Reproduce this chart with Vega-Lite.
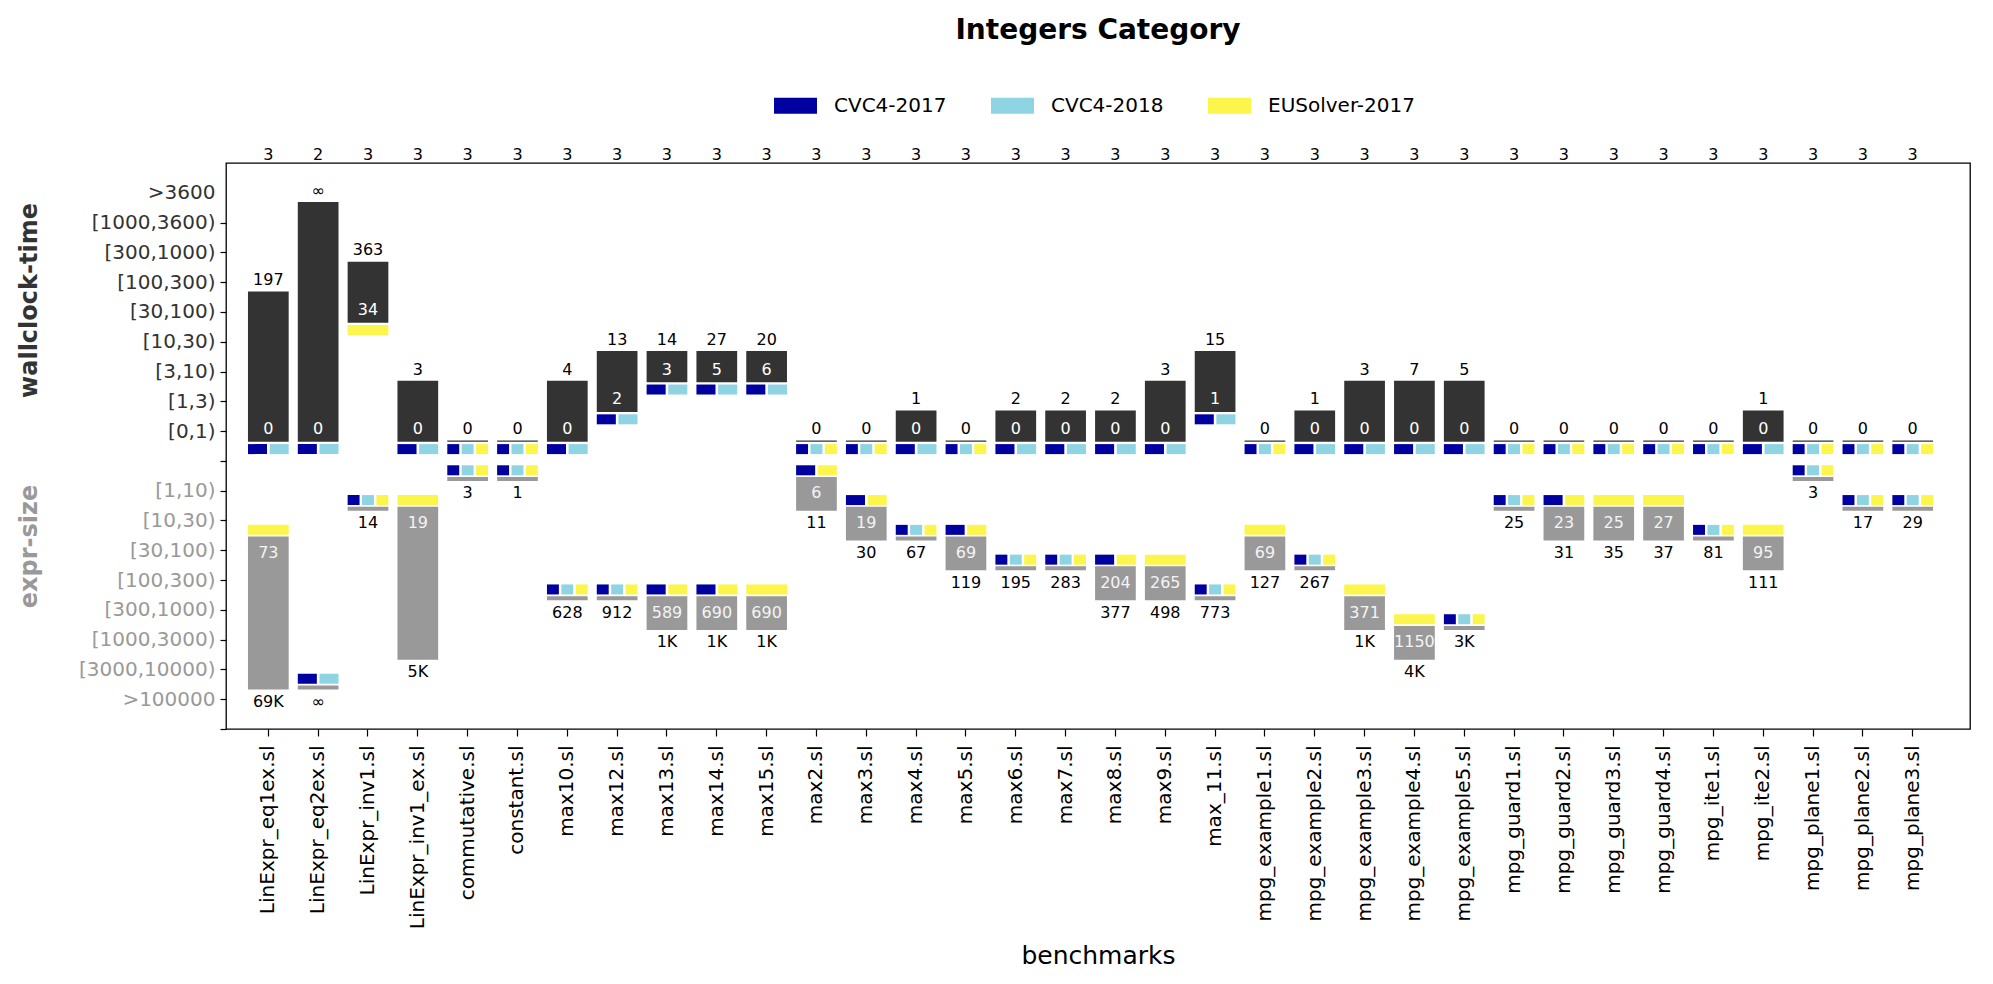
{
  "$schema": "https://vega.github.io/schema/vega-lite/v6.json",
  "width": 1744,
  "height": 566,
  "autosize": {"type": "none"},
  "padding": {"left": 226, "top": 163, "right": 23, "bottom": 255},
  "config": {"font": "DejaVu Sans", "view": {"stroke": "black", "strokeWidth": 1.3}},
  "title": {"text": "Integers Category", "fontSize": 28, "fontWeight": "bold", "color": "black", "anchor": "middle", "frame": "group", "offset": 39, "font": "DejaVu Sans"},
  "datasets": {
    "bench": [
      {"b": "LinExpr_eq1ex.sl", "n": 3, "tmin": "0", "tmax": "197", "tminL": 1, "tmaxL": 6, "smin": "73", "smax": "69K", "sminL": -3, "smaxL": -8},
      {"b": "LinExpr_eq2ex.sl", "n": 2, "tmin": "0", "tmax": "∞", "tminL": 1, "tmaxL": 9, "smin": "∞", "smax": "∞", "sminL": -8, "smaxL": -8},
      {"b": "LinExpr_inv1.sl", "n": 3, "tmin": "34", "tmax": "363", "tminL": 5, "tmaxL": 7, "smin": "14", "smax": "14", "sminL": -2, "smaxL": -2},
      {"b": "LinExpr_inv1_ex.sl", "n": 3, "tmin": "0", "tmax": "3", "tminL": 1, "tmaxL": 3, "smin": "19", "smax": "5K", "sminL": -2, "smaxL": -7},
      {"b": "commutative.sl", "n": 3, "tmin": "0", "tmax": "0", "tminL": 1, "tmaxL": 1, "smin": "3", "smax": "3", "sminL": -1, "smaxL": -1},
      {"b": "constant.sl", "n": 3, "tmin": "0", "tmax": "0", "tminL": 1, "tmaxL": 1, "smin": "1", "smax": "1", "sminL": -1, "smaxL": -1},
      {"b": "max10.sl", "n": 3, "tmin": "0", "tmax": "4", "tminL": 1, "tmaxL": 3, "smin": "628", "smax": "628", "sminL": -5, "smaxL": -5},
      {"b": "max12.sl", "n": 3, "tmin": "2", "tmax": "13", "tminL": 2, "tmaxL": 4, "smin": "912", "smax": "912", "sminL": -5, "smaxL": -5},
      {"b": "max13.sl", "n": 3, "tmin": "3", "tmax": "14", "tminL": 3, "tmaxL": 4, "smin": "589", "smax": "1K", "sminL": -5, "smaxL": -6},
      {"b": "max14.sl", "n": 3, "tmin": "5", "tmax": "27", "tminL": 3, "tmaxL": 4, "smin": "690", "smax": "1K", "sminL": -5, "smaxL": -6},
      {"b": "max15.sl", "n": 3, "tmin": "6", "tmax": "20", "tminL": 3, "tmaxL": 4, "smin": "690", "smax": "1K", "sminL": -5, "smaxL": -6},
      {"b": "max2.sl", "n": 3, "tmin": "0", "tmax": "0", "tminL": 1, "tmaxL": 1, "smin": "6", "smax": "11", "sminL": -1, "smaxL": -2},
      {"b": "max3.sl", "n": 3, "tmin": "0", "tmax": "0", "tminL": 1, "tmaxL": 1, "smin": "19", "smax": "30", "sminL": -2, "smaxL": -3},
      {"b": "max4.sl", "n": 3, "tmin": "0", "tmax": "1", "tminL": 1, "tmaxL": 2, "smin": "67", "smax": "67", "sminL": -3, "smaxL": -3},
      {"b": "max5.sl", "n": 3, "tmin": "0", "tmax": "0", "tminL": 1, "tmaxL": 1, "smin": "69", "smax": "119", "sminL": -3, "smaxL": -4},
      {"b": "max6.sl", "n": 3, "tmin": "0", "tmax": "2", "tminL": 1, "tmaxL": 2, "smin": "195", "smax": "195", "sminL": -4, "smaxL": -4},
      {"b": "max7.sl", "n": 3, "tmin": "0", "tmax": "2", "tminL": 1, "tmaxL": 2, "smin": "283", "smax": "283", "sminL": -4, "smaxL": -4},
      {"b": "max8.sl", "n": 3, "tmin": "0", "tmax": "2", "tminL": 1, "tmaxL": 2, "smin": "204", "smax": "377", "sminL": -4, "smaxL": -5},
      {"b": "max9.sl", "n": 3, "tmin": "0", "tmax": "3", "tminL": 1, "tmaxL": 3, "smin": "265", "smax": "498", "sminL": -4, "smaxL": -5},
      {"b": "max_11.sl", "n": 3, "tmin": "1", "tmax": "15", "tminL": 2, "tmaxL": 4, "smin": "773", "smax": "773", "sminL": -5, "smaxL": -5},
      {"b": "mpg_example1.sl", "n": 3, "tmin": "0", "tmax": "0", "tminL": 1, "tmaxL": 1, "smin": "69", "smax": "127", "sminL": -3, "smaxL": -4},
      {"b": "mpg_example2.sl", "n": 3, "tmin": "0", "tmax": "1", "tminL": 1, "tmaxL": 2, "smin": "267", "smax": "267", "sminL": -4, "smaxL": -4},
      {"b": "mpg_example3.sl", "n": 3, "tmin": "0", "tmax": "3", "tminL": 1, "tmaxL": 3, "smin": "371", "smax": "1K", "sminL": -5, "smaxL": -6},
      {"b": "mpg_example4.sl", "n": 3, "tmin": "0", "tmax": "7", "tminL": 1, "tmaxL": 3, "smin": "1150", "smax": "4K", "sminL": -6, "smaxL": -7},
      {"b": "mpg_example5.sl", "n": 3, "tmin": "0", "tmax": "5", "tminL": 1, "tmaxL": 3, "smin": "3K", "smax": "3K", "sminL": -6, "smaxL": -6},
      {"b": "mpg_guard1.sl", "n": 3, "tmin": "0", "tmax": "0", "tminL": 1, "tmaxL": 1, "smin": "25", "smax": "25", "sminL": -2, "smaxL": -2},
      {"b": "mpg_guard2.sl", "n": 3, "tmin": "0", "tmax": "0", "tminL": 1, "tmaxL": 1, "smin": "23", "smax": "31", "sminL": -2, "smaxL": -3},
      {"b": "mpg_guard3.sl", "n": 3, "tmin": "0", "tmax": "0", "tminL": 1, "tmaxL": 1, "smin": "25", "smax": "35", "sminL": -2, "smaxL": -3},
      {"b": "mpg_guard4.sl", "n": 3, "tmin": "0", "tmax": "0", "tminL": 1, "tmaxL": 1, "smin": "27", "smax": "37", "sminL": -2, "smaxL": -3},
      {"b": "mpg_ite1.sl", "n": 3, "tmin": "0", "tmax": "0", "tminL": 1, "tmaxL": 1, "smin": "81", "smax": "81", "sminL": -3, "smaxL": -3},
      {"b": "mpg_ite2.sl", "n": 3, "tmin": "0", "tmax": "1", "tminL": 1, "tmaxL": 2, "smin": "95", "smax": "111", "sminL": -3, "smaxL": -4},
      {"b": "mpg_plane1.sl", "n": 3, "tmin": "0", "tmax": "0", "tminL": 1, "tmaxL": 1, "smin": "3", "smax": "3", "sminL": -1, "smaxL": -1},
      {"b": "mpg_plane2.sl", "n": 3, "tmin": "0", "tmax": "0", "tminL": 1, "tmaxL": 1, "smin": "17", "smax": "17", "sminL": -2, "smaxL": -2},
      {"b": "mpg_plane3.sl", "n": 3, "tmin": "0", "tmax": "0", "tminL": 1, "tmaxL": 1, "smin": "29", "smax": "29", "sminL": -2, "smaxL": -2}
    ],
    "tsq": [
      {"b": "LinExpr_eq1ex.sl", "solver": "CVC4-2017", "L": 1, "g": "cvc"},
      {"b": "LinExpr_eq1ex.sl", "solver": "CVC4-2018", "L": 1, "g": "cvc"},
      {"b": "LinExpr_eq2ex.sl", "solver": "CVC4-2017", "L": 1, "g": "cvc"},
      {"b": "LinExpr_eq2ex.sl", "solver": "CVC4-2018", "L": 1, "g": "cvc"},
      {"b": "LinExpr_inv1.sl", "solver": "EUSolver-2017", "L": 5, "g": "eu"},
      {"b": "LinExpr_inv1_ex.sl", "solver": "CVC4-2017", "L": 1, "g": "cvc"},
      {"b": "LinExpr_inv1_ex.sl", "solver": "CVC4-2018", "L": 1, "g": "cvc"},
      {"b": "commutative.sl", "solver": "CVC4-2017", "L": 1, "g": "all3"},
      {"b": "commutative.sl", "solver": "CVC4-2018", "L": 1, "g": "all3"},
      {"b": "commutative.sl", "solver": "EUSolver-2017", "L": 1, "g": "all3"},
      {"b": "constant.sl", "solver": "CVC4-2017", "L": 1, "g": "all3"},
      {"b": "constant.sl", "solver": "CVC4-2018", "L": 1, "g": "all3"},
      {"b": "constant.sl", "solver": "EUSolver-2017", "L": 1, "g": "all3"},
      {"b": "max10.sl", "solver": "CVC4-2017", "L": 1, "g": "cvc"},
      {"b": "max10.sl", "solver": "CVC4-2018", "L": 1, "g": "cvc"},
      {"b": "max12.sl", "solver": "CVC4-2017", "L": 2, "g": "cvc"},
      {"b": "max12.sl", "solver": "CVC4-2018", "L": 2, "g": "cvc"},
      {"b": "max13.sl", "solver": "CVC4-2017", "L": 3, "g": "cvc"},
      {"b": "max13.sl", "solver": "CVC4-2018", "L": 3, "g": "cvc"},
      {"b": "max14.sl", "solver": "CVC4-2017", "L": 3, "g": "cvc"},
      {"b": "max14.sl", "solver": "CVC4-2018", "L": 3, "g": "cvc"},
      {"b": "max15.sl", "solver": "CVC4-2017", "L": 3, "g": "cvc"},
      {"b": "max15.sl", "solver": "CVC4-2018", "L": 3, "g": "cvc"},
      {"b": "max2.sl", "solver": "CVC4-2017", "L": 1, "g": "all3"},
      {"b": "max2.sl", "solver": "CVC4-2018", "L": 1, "g": "all3"},
      {"b": "max2.sl", "solver": "EUSolver-2017", "L": 1, "g": "all3"},
      {"b": "max3.sl", "solver": "CVC4-2017", "L": 1, "g": "all3"},
      {"b": "max3.sl", "solver": "CVC4-2018", "L": 1, "g": "all3"},
      {"b": "max3.sl", "solver": "EUSolver-2017", "L": 1, "g": "all3"},
      {"b": "max4.sl", "solver": "CVC4-2017", "L": 1, "g": "cvc"},
      {"b": "max4.sl", "solver": "CVC4-2018", "L": 1, "g": "cvc"},
      {"b": "max5.sl", "solver": "CVC4-2017", "L": 1, "g": "all3"},
      {"b": "max5.sl", "solver": "CVC4-2018", "L": 1, "g": "all3"},
      {"b": "max5.sl", "solver": "EUSolver-2017", "L": 1, "g": "all3"},
      {"b": "max6.sl", "solver": "CVC4-2017", "L": 1, "g": "cvc"},
      {"b": "max6.sl", "solver": "CVC4-2018", "L": 1, "g": "cvc"},
      {"b": "max7.sl", "solver": "CVC4-2017", "L": 1, "g": "cvc"},
      {"b": "max7.sl", "solver": "CVC4-2018", "L": 1, "g": "cvc"},
      {"b": "max8.sl", "solver": "CVC4-2017", "L": 1, "g": "cvc"},
      {"b": "max8.sl", "solver": "CVC4-2018", "L": 1, "g": "cvc"},
      {"b": "max9.sl", "solver": "CVC4-2017", "L": 1, "g": "cvc"},
      {"b": "max9.sl", "solver": "CVC4-2018", "L": 1, "g": "cvc"},
      {"b": "max_11.sl", "solver": "CVC4-2017", "L": 2, "g": "cvc"},
      {"b": "max_11.sl", "solver": "CVC4-2018", "L": 2, "g": "cvc"},
      {"b": "mpg_example1.sl", "solver": "CVC4-2017", "L": 1, "g": "all3"},
      {"b": "mpg_example1.sl", "solver": "CVC4-2018", "L": 1, "g": "all3"},
      {"b": "mpg_example1.sl", "solver": "EUSolver-2017", "L": 1, "g": "all3"},
      {"b": "mpg_example2.sl", "solver": "CVC4-2017", "L": 1, "g": "cvc"},
      {"b": "mpg_example2.sl", "solver": "CVC4-2018", "L": 1, "g": "cvc"},
      {"b": "mpg_example3.sl", "solver": "CVC4-2017", "L": 1, "g": "cvc"},
      {"b": "mpg_example3.sl", "solver": "CVC4-2018", "L": 1, "g": "cvc"},
      {"b": "mpg_example4.sl", "solver": "CVC4-2017", "L": 1, "g": "cvc"},
      {"b": "mpg_example4.sl", "solver": "CVC4-2018", "L": 1, "g": "cvc"},
      {"b": "mpg_example5.sl", "solver": "CVC4-2017", "L": 1, "g": "cvc"},
      {"b": "mpg_example5.sl", "solver": "CVC4-2018", "L": 1, "g": "cvc"},
      {"b": "mpg_guard1.sl", "solver": "CVC4-2017", "L": 1, "g": "all3"},
      {"b": "mpg_guard1.sl", "solver": "CVC4-2018", "L": 1, "g": "all3"},
      {"b": "mpg_guard1.sl", "solver": "EUSolver-2017", "L": 1, "g": "all3"},
      {"b": "mpg_guard2.sl", "solver": "CVC4-2017", "L": 1, "g": "all3"},
      {"b": "mpg_guard2.sl", "solver": "CVC4-2018", "L": 1, "g": "all3"},
      {"b": "mpg_guard2.sl", "solver": "EUSolver-2017", "L": 1, "g": "all3"},
      {"b": "mpg_guard3.sl", "solver": "CVC4-2017", "L": 1, "g": "all3"},
      {"b": "mpg_guard3.sl", "solver": "CVC4-2018", "L": 1, "g": "all3"},
      {"b": "mpg_guard3.sl", "solver": "EUSolver-2017", "L": 1, "g": "all3"},
      {"b": "mpg_guard4.sl", "solver": "CVC4-2017", "L": 1, "g": "all3"},
      {"b": "mpg_guard4.sl", "solver": "CVC4-2018", "L": 1, "g": "all3"},
      {"b": "mpg_guard4.sl", "solver": "EUSolver-2017", "L": 1, "g": "all3"},
      {"b": "mpg_ite1.sl", "solver": "CVC4-2017", "L": 1, "g": "all3"},
      {"b": "mpg_ite1.sl", "solver": "CVC4-2018", "L": 1, "g": "all3"},
      {"b": "mpg_ite1.sl", "solver": "EUSolver-2017", "L": 1, "g": "all3"},
      {"b": "mpg_ite2.sl", "solver": "CVC4-2017", "L": 1, "g": "cvc"},
      {"b": "mpg_ite2.sl", "solver": "CVC4-2018", "L": 1, "g": "cvc"},
      {"b": "mpg_plane1.sl", "solver": "CVC4-2017", "L": 1, "g": "all3"},
      {"b": "mpg_plane1.sl", "solver": "CVC4-2018", "L": 1, "g": "all3"},
      {"b": "mpg_plane1.sl", "solver": "EUSolver-2017", "L": 1, "g": "all3"},
      {"b": "mpg_plane2.sl", "solver": "CVC4-2017", "L": 1, "g": "all3"},
      {"b": "mpg_plane2.sl", "solver": "CVC4-2018", "L": 1, "g": "all3"},
      {"b": "mpg_plane2.sl", "solver": "EUSolver-2017", "L": 1, "g": "all3"},
      {"b": "mpg_plane3.sl", "solver": "CVC4-2017", "L": 1, "g": "all3"},
      {"b": "mpg_plane3.sl", "solver": "CVC4-2018", "L": 1, "g": "all3"},
      {"b": "mpg_plane3.sl", "solver": "EUSolver-2017", "L": 1, "g": "all3"}
    ],
    "ssq": [
      {"b": "LinExpr_eq1ex.sl", "solver": "EUSolver-2017", "L": -3, "g": "eu"},
      {"b": "LinExpr_eq2ex.sl", "solver": "CVC4-2017", "L": -8, "g": "cvc"},
      {"b": "LinExpr_eq2ex.sl", "solver": "CVC4-2018", "L": -8, "g": "cvc"},
      {"b": "LinExpr_inv1.sl", "solver": "CVC4-2017", "L": -2, "g": "all3"},
      {"b": "LinExpr_inv1.sl", "solver": "CVC4-2018", "L": -2, "g": "all3"},
      {"b": "LinExpr_inv1.sl", "solver": "EUSolver-2017", "L": -2, "g": "all3"},
      {"b": "LinExpr_inv1_ex.sl", "solver": "EUSolver-2017", "L": -2, "g": "eu"},
      {"b": "commutative.sl", "solver": "CVC4-2017", "L": -1, "g": "all3"},
      {"b": "commutative.sl", "solver": "CVC4-2018", "L": -1, "g": "all3"},
      {"b": "commutative.sl", "solver": "EUSolver-2017", "L": -1, "g": "all3"},
      {"b": "constant.sl", "solver": "CVC4-2017", "L": -1, "g": "all3"},
      {"b": "constant.sl", "solver": "CVC4-2018", "L": -1, "g": "all3"},
      {"b": "constant.sl", "solver": "EUSolver-2017", "L": -1, "g": "all3"},
      {"b": "max10.sl", "solver": "CVC4-2017", "L": -5, "g": "all3"},
      {"b": "max10.sl", "solver": "CVC4-2018", "L": -5, "g": "all3"},
      {"b": "max10.sl", "solver": "EUSolver-2017", "L": -5, "g": "all3"},
      {"b": "max12.sl", "solver": "CVC4-2017", "L": -5, "g": "all3"},
      {"b": "max12.sl", "solver": "CVC4-2018", "L": -5, "g": "all3"},
      {"b": "max12.sl", "solver": "EUSolver-2017", "L": -5, "g": "all3"},
      {"b": "max13.sl", "solver": "CVC4-2017", "L": -5, "g": "c17eu"},
      {"b": "max13.sl", "solver": "EUSolver-2017", "L": -5, "g": "c17eu"},
      {"b": "max14.sl", "solver": "CVC4-2017", "L": -5, "g": "c17eu"},
      {"b": "max14.sl", "solver": "EUSolver-2017", "L": -5, "g": "c17eu"},
      {"b": "max15.sl", "solver": "EUSolver-2017", "L": -5, "g": "eu"},
      {"b": "max2.sl", "solver": "CVC4-2017", "L": -1, "g": "c17eu"},
      {"b": "max2.sl", "solver": "EUSolver-2017", "L": -1, "g": "c17eu"},
      {"b": "max3.sl", "solver": "CVC4-2017", "L": -2, "g": "c17eu"},
      {"b": "max3.sl", "solver": "EUSolver-2017", "L": -2, "g": "c17eu"},
      {"b": "max4.sl", "solver": "CVC4-2017", "L": -3, "g": "all3"},
      {"b": "max4.sl", "solver": "CVC4-2018", "L": -3, "g": "all3"},
      {"b": "max4.sl", "solver": "EUSolver-2017", "L": -3, "g": "all3"},
      {"b": "max5.sl", "solver": "CVC4-2017", "L": -3, "g": "c17eu"},
      {"b": "max5.sl", "solver": "EUSolver-2017", "L": -3, "g": "c17eu"},
      {"b": "max6.sl", "solver": "CVC4-2017", "L": -4, "g": "all3"},
      {"b": "max6.sl", "solver": "CVC4-2018", "L": -4, "g": "all3"},
      {"b": "max6.sl", "solver": "EUSolver-2017", "L": -4, "g": "all3"},
      {"b": "max7.sl", "solver": "CVC4-2017", "L": -4, "g": "all3"},
      {"b": "max7.sl", "solver": "CVC4-2018", "L": -4, "g": "all3"},
      {"b": "max7.sl", "solver": "EUSolver-2017", "L": -4, "g": "all3"},
      {"b": "max8.sl", "solver": "CVC4-2017", "L": -4, "g": "c17eu"},
      {"b": "max8.sl", "solver": "EUSolver-2017", "L": -4, "g": "c17eu"},
      {"b": "max9.sl", "solver": "EUSolver-2017", "L": -4, "g": "eu"},
      {"b": "max_11.sl", "solver": "CVC4-2017", "L": -5, "g": "all3"},
      {"b": "max_11.sl", "solver": "CVC4-2018", "L": -5, "g": "all3"},
      {"b": "max_11.sl", "solver": "EUSolver-2017", "L": -5, "g": "all3"},
      {"b": "mpg_example1.sl", "solver": "EUSolver-2017", "L": -3, "g": "eu"},
      {"b": "mpg_example2.sl", "solver": "CVC4-2017", "L": -4, "g": "all3"},
      {"b": "mpg_example2.sl", "solver": "CVC4-2018", "L": -4, "g": "all3"},
      {"b": "mpg_example2.sl", "solver": "EUSolver-2017", "L": -4, "g": "all3"},
      {"b": "mpg_example3.sl", "solver": "EUSolver-2017", "L": -5, "g": "eu"},
      {"b": "mpg_example4.sl", "solver": "EUSolver-2017", "L": -6, "g": "eu"},
      {"b": "mpg_example5.sl", "solver": "CVC4-2017", "L": -6, "g": "all3"},
      {"b": "mpg_example5.sl", "solver": "CVC4-2018", "L": -6, "g": "all3"},
      {"b": "mpg_example5.sl", "solver": "EUSolver-2017", "L": -6, "g": "all3"},
      {"b": "mpg_guard1.sl", "solver": "CVC4-2017", "L": -2, "g": "all3"},
      {"b": "mpg_guard1.sl", "solver": "CVC4-2018", "L": -2, "g": "all3"},
      {"b": "mpg_guard1.sl", "solver": "EUSolver-2017", "L": -2, "g": "all3"},
      {"b": "mpg_guard2.sl", "solver": "CVC4-2017", "L": -2, "g": "c17eu"},
      {"b": "mpg_guard2.sl", "solver": "EUSolver-2017", "L": -2, "g": "c17eu"},
      {"b": "mpg_guard3.sl", "solver": "EUSolver-2017", "L": -2, "g": "eu"},
      {"b": "mpg_guard4.sl", "solver": "EUSolver-2017", "L": -2, "g": "eu"},
      {"b": "mpg_ite1.sl", "solver": "CVC4-2017", "L": -3, "g": "all3"},
      {"b": "mpg_ite1.sl", "solver": "CVC4-2018", "L": -3, "g": "all3"},
      {"b": "mpg_ite1.sl", "solver": "EUSolver-2017", "L": -3, "g": "all3"},
      {"b": "mpg_ite2.sl", "solver": "EUSolver-2017", "L": -3, "g": "eu"},
      {"b": "mpg_plane1.sl", "solver": "CVC4-2017", "L": -1, "g": "all3"},
      {"b": "mpg_plane1.sl", "solver": "CVC4-2018", "L": -1, "g": "all3"},
      {"b": "mpg_plane1.sl", "solver": "EUSolver-2017", "L": -1, "g": "all3"},
      {"b": "mpg_plane2.sl", "solver": "CVC4-2017", "L": -2, "g": "all3"},
      {"b": "mpg_plane2.sl", "solver": "CVC4-2018", "L": -2, "g": "all3"},
      {"b": "mpg_plane2.sl", "solver": "EUSolver-2017", "L": -2, "g": "all3"},
      {"b": "mpg_plane3.sl", "solver": "CVC4-2017", "L": -2, "g": "all3"},
      {"b": "mpg_plane3.sl", "solver": "CVC4-2018", "L": -2, "g": "all3"},
      {"b": "mpg_plane3.sl", "solver": "EUSolver-2017", "L": -2, "g": "all3"}
    ]
  },
  "encoding": {
    "x": {
      "field": "b", "type": "nominal",
      "scale": {
        "domain": ["LinExpr_eq1ex.sl", "LinExpr_eq2ex.sl", "LinExpr_inv1.sl", "LinExpr_inv1_ex.sl", "commutative.sl", "constant.sl", "max10.sl", "max12.sl", "max13.sl", "max14.sl", "max15.sl", "max2.sl", "max3.sl", "max4.sl", "max5.sl", "max6.sl", "max7.sl", "max8.sl", "max9.sl", "max_11.sl", "mpg_example1.sl", "mpg_example2.sl", "mpg_example3.sl", "mpg_example4.sl", "mpg_example5.sl", "mpg_guard1.sl", "mpg_guard2.sl", "mpg_guard3.sl", "mpg_guard4.sl", "mpg_ite1.sl", "mpg_ite2.sl", "mpg_plane1.sl", "mpg_plane2.sl", "mpg_plane3.sl"],
        "paddingInner": 0.183, "paddingOuter": 0.591, "align": 0.373
      },
      "axis": {
        "title": "benchmarks", "titleFontSize": 25, "titleFontWeight": "normal", "titleColor": "black",
        "titleY": 234, "titleBaseline": "alphabetic",
        "labelAngle": 270, "labelAlign": "right", "labelBaseline": "middle",
        "labelFontSize": 20, "labelColor": "black", "labelPadding": 9, "labelOverlap": false, "labelLimit": 0,
        "tickSize": 7, "tickColor": "black", "tickWidth": 1.2, "domain": false, "grid": false
      }
    }
  },
  "layer": [
    {
      "data": {"name": "bench"},
      "mark": {"type": "bar", "color": "#333333", "yOffset": 9.3, "y2Offset": 10.7},
      "encoding": {
        "y": {
          "field": "tmaxL", "type": "quantitative",
          "scale": {"domain": [-9, 10], "nice": false, "zero": false},
          "axis": {
            "orient": "left",
            "values": [0, 1, 2, 3, 4, 5, 6, 7, 8, 9],
            "labelExpr": "['', '[0,1)', '[1,3)', '[3,10)', '[10,30)', '[30,100)', '[100,300)', '[300,1000)', '[1000,3600)', '>3600'][datum.value]",
            "tickOpacity": {"condition": {"test": "datum.value == 9", "value": 0}, "value": 1},
            "title": "wallclock-time", "titleFontSize": 24, "titleFontWeight": "bold", "titleColor": "#333333",
            "titleX": -190, "titleY": 137, "titleAngle": 270, "titleBaseline": "alphabetic", "titleAlign": "center",
            "labelColor": "#333333", "labelFontSize": 20, "labelPadding": 5,
            "tickSize": 6, "tickColor": "black", "tickWidth": 1.2, "domain": false, "grid": false
          }
        },
        "y2": {"field": "tminL"}
      }
    },
    {
      "data": {"name": "bench"},
      "mark": {"type": "bar", "color": "#999999", "yOffset": -13.7, "y2Offset": -9.7},
      "encoding": {
        "y": {
          "field": "sminL", "type": "quantitative",
          "scale": {"domain": [-9, 10], "nice": false, "zero": false},
          "axis": {
            "orient": "left",
            "values": [-9, -8, -7, -6, -5, -4, -3, -2, -1],
            "labelExpr": "['', '[1,10)', '[10,30)', '[30,100)', '[100,300)', '[300,1000)', '[1000,3000)', '[3000,10000)', '>100000', ''][-datum.value]",
            "title": "expr-size", "titleFontSize": 24, "titleFontWeight": "bold", "titleColor": "#999999",
            "titleX": -190, "titleY": 383, "titleAngle": 270, "titleBaseline": "alphabetic", "titleAlign": "center",
            "labelColor": "#999999", "labelFontSize": 20, "labelPadding": 5,
            "tickSize": 6, "tickColor": "black", "tickWidth": 1.2, "domain": false, "grid": false
          }
        },
        "y2": {"field": "smaxL"}
      }
    },
    {
      "data": {"name": "tsq"},
      "transform": [{"filter": "datum.g == 'cvc'"}],
      "mark": {"type": "bar", "yOffset": 13, "y2Offset": 23},
      "encoding": {
        "xOffset": {"field": "solver", "type": "nominal", "scale": {"domain": ["CVC4-2017", "CVC4-2018"], "paddingInner": 0.12, "paddingOuter": 0}},
        "y": {"field": "L", "type": "quantitative", "scale": {"domain": [-9, 10], "nice": false, "zero": false}, "axis": null},
        "y2": {"field": "L"},
        "color": {
          "field": "solver", "type": "nominal",
          "scale": {"domain": ["CVC4-2017", "CVC4-2018", "EUSolver-2017"], "range": ["#0000A0", "#8FD4E2", "#FCF54B"]},
          "legend": {
            "orient": "none", "legendX": 548, "legendY": -79, "direction": "horizontal", "title": null,
            "symbolType": "M-1,-0.372H1V0.372H-1Z", "symbolSize": 1849, "symbolStrokeWidth": 0, "symbolOpacity": 1,
            "labelFontSize": 20, "labelColor": "black", "labelOffset": 17, "columnPadding": 44, "padding": 0
          }
        }
      }
    },
    {
      "data": {"name": "tsq"},
      "transform": [{"filter": "datum.g == 'all3'"}],
      "mark": {"type": "bar", "yOffset": 13, "y2Offset": 23},
      "encoding": {
        "xOffset": {"field": "solver", "type": "nominal", "scale": {"domain": ["CVC4-2017", "CVC4-2018", "EUSolver-2017"], "paddingInner": 0.17, "paddingOuter": 0}},
        "y": {"field": "L", "type": "quantitative", "scale": {"domain": [-9, 10], "nice": false, "zero": false}, "axis": null},
        "y2": {"field": "L"},
        "color": {"field": "solver", "type": "nominal", "scale": {"domain": ["CVC4-2017", "CVC4-2018", "EUSolver-2017"], "range": ["#0000A0", "#8FD4E2", "#FCF54B"]}}
      }
    },
    {
      "data": {"name": "tsq"},
      "transform": [{"filter": "datum.g == 'eu'"}],
      "mark": {"type": "bar", "yOffset": 13, "y2Offset": 23},
      "encoding": {
        "y": {"field": "L", "type": "quantitative", "scale": {"domain": [-9, 10], "nice": false, "zero": false}, "axis": null},
        "y2": {"field": "L"},
        "color": {"field": "solver", "type": "nominal", "scale": {"domain": ["CVC4-2017", "CVC4-2018", "EUSolver-2017"], "range": ["#0000A0", "#8FD4E2", "#FCF54B"]}}
      }
    },
    {
      "data": {"name": "ssq"},
      "transform": [{"filter": "datum.g == 'eu'"}],
      "mark": {"type": "bar", "yOffset": -25.4, "y2Offset": -15.4},
      "encoding": {
        "y": {"field": "L", "type": "quantitative", "scale": {"domain": [-9, 10], "nice": false, "zero": false}, "axis": null},
        "y2": {"field": "L"},
        "color": {"field": "solver", "type": "nominal", "scale": {"domain": ["CVC4-2017", "CVC4-2018", "EUSolver-2017"], "range": ["#0000A0", "#8FD4E2", "#FCF54B"]}}
      }
    },
    {
      "data": {"name": "ssq"},
      "transform": [{"filter": "datum.g == 'c17eu'"}],
      "mark": {"type": "bar", "yOffset": -25.4, "y2Offset": -15.4},
      "encoding": {
        "xOffset": {"field": "solver", "type": "nominal", "scale": {"domain": ["CVC4-2017", "EUSolver-2017"], "paddingInner": 0.12, "paddingOuter": 0}},
        "y": {"field": "L", "type": "quantitative", "scale": {"domain": [-9, 10], "nice": false, "zero": false}, "axis": null},
        "y2": {"field": "L"},
        "color": {"field": "solver", "type": "nominal", "scale": {"domain": ["CVC4-2017", "CVC4-2018", "EUSolver-2017"], "range": ["#0000A0", "#8FD4E2", "#FCF54B"]}}
      }
    },
    {
      "data": {"name": "ssq"},
      "transform": [{"filter": "datum.g == 'all3'"}],
      "mark": {"type": "bar", "yOffset": -25.4, "y2Offset": -15.4},
      "encoding": {
        "xOffset": {"field": "solver", "type": "nominal", "scale": {"domain": ["CVC4-2017", "CVC4-2018", "EUSolver-2017"], "paddingInner": 0.17, "paddingOuter": 0}},
        "y": {"field": "L", "type": "quantitative", "scale": {"domain": [-9, 10], "nice": false, "zero": false}, "axis": null},
        "y2": {"field": "L"},
        "color": {"field": "solver", "type": "nominal", "scale": {"domain": ["CVC4-2017", "CVC4-2018", "EUSolver-2017"], "range": ["#0000A0", "#8FD4E2", "#FCF54B"]}}
      }
    },
    {
      "data": {"name": "ssq"},
      "transform": [{"filter": "datum.g == 'cvc'"}],
      "mark": {"type": "bar", "yOffset": -25.4, "y2Offset": -15.4},
      "encoding": {
        "xOffset": {"field": "solver", "type": "nominal", "scale": {"domain": ["CVC4-2017", "CVC4-2018"], "paddingInner": 0.12, "paddingOuter": 0}},
        "y": {"field": "L", "type": "quantitative", "scale": {"domain": [-9, 10], "nice": false, "zero": false}, "axis": null},
        "y2": {"field": "L"},
        "color": {"field": "solver", "type": "nominal", "scale": {"domain": ["CVC4-2017", "CVC4-2018", "EUSolver-2017"], "range": ["#0000A0", "#8FD4E2", "#FCF54B"]}}
      }
    },
    {
      "data": {"name": "bench"},
      "mark": {"type": "text", "fontSize": 16, "color": "black", "baseline": "alphabetic", "dy": 3},
      "encoding": {
        "y": {"field": "tmaxL", "type": "quantitative", "scale": {"domain": [-9, 10], "nice": false, "zero": false}, "axis": null},
        "text": {"field": "tmax"}
      }
    },
    {
      "data": {"name": "bench"},
      "transform": [{"filter": "datum.tminL != datum.tmaxL"}],
      "mark": {"type": "text", "fontSize": 16, "color": "white", "baseline": "alphabetic", "dy": 3},
      "encoding": {
        "y": {"field": "tminL", "type": "quantitative", "scale": {"domain": [-9, 10], "nice": false, "zero": false}, "axis": null},
        "text": {"field": "tmin"}
      }
    },
    {
      "data": {"name": "bench"},
      "mark": {"type": "text", "fontSize": 16, "color": "black", "baseline": "alphabetic", "dy": 7.7},
      "encoding": {
        "y": {"field": "smaxL", "type": "quantitative", "scale": {"domain": [-9, 10], "nice": false, "zero": false}, "axis": null},
        "text": {"field": "smax"}
      }
    },
    {
      "data": {"name": "bench"},
      "transform": [{"filter": "datum.sminL != datum.smaxL"}],
      "mark": {"type": "text", "fontSize": 16, "color": "#f4f4f4", "baseline": "alphabetic", "dy": 7.7},
      "encoding": {
        "y": {"field": "sminL", "type": "quantitative", "scale": {"domain": [-9, 10], "nice": false, "zero": false}, "axis": null},
        "text": {"field": "smin"}
      }
    },
    {
      "data": {"name": "bench"},
      "mark": {"type": "text", "fontSize": 16, "color": "black", "baseline": "alphabetic", "dy": -3},
      "encoding": {
        "y": {"datum": 10, "type": "quantitative", "scale": {"domain": [-9, 10], "nice": false, "zero": false}, "axis": null},
        "text": {"field": "n"}
      }
    }
  ],
  "resolve": {"scale": {"xOffset": "independent"}, "axis": {"y": "independent"}}
}
